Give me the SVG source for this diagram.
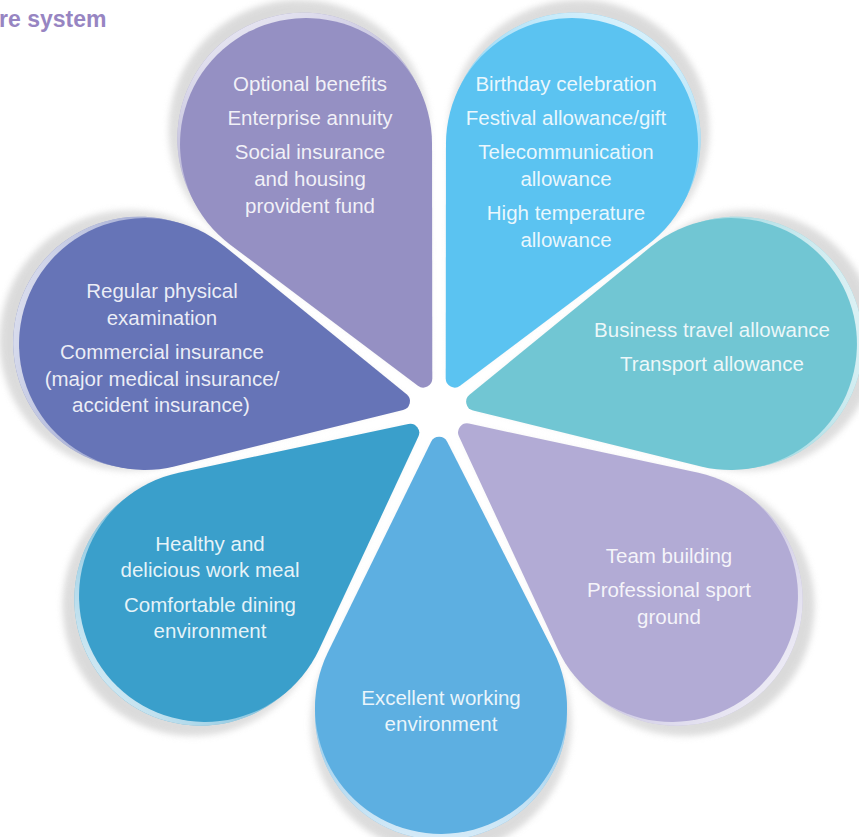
<svg xmlns="http://www.w3.org/2000/svg" xmlns:xlink="http://www.w3.org/1999/xlink" width="859" height="837" viewBox="0 0 859 837">
  <style>
    .lbl { font-family: "Liberation Sans", Arial, sans-serif; font-size: 20.5px; fill: #ffffff; fill-opacity: 0.88; text-anchor: middle; }
    .title { font-family: "Liberation Sans", Arial, sans-serif; font-size: 23px; font-weight: bold; fill: #9785c2; }
    .shadow { fill: url(#shade); filter: url(#blur); }
  </style>
  <defs>
    <path id="shape" d="M 8.05,266.25 L 112.8,56.2 A 126 126 0 1 0 -112.8,56.2 L -8.05,266.25 A 9 9 0 0 0 8.05,266.25 Z"/>
    <linearGradient id="rim" x1="0" y1="0" x2="0" y2="1">
      <stop offset="0" stop-color="#ffffff" stop-opacity="0.75"/>
      <stop offset="0.3" stop-color="#ffffff" stop-opacity="0.35"/>
      <stop offset="0.7" stop-color="#ffffff" stop-opacity="0.2"/>
      <stop offset="1" stop-color="#ffffff" stop-opacity="0.1"/>
    </linearGradient>
    <linearGradient id="shade" x1="0" y1="0" x2="0" y2="1">
      <stop offset="0" stop-color="#d2d2d2"/>
      <stop offset="0.5" stop-color="#dcdcdc"/>
      <stop offset="1" stop-color="#e8e8e8"/>
    </linearGradient>
    <filter id="blur" x="-20%" y="-20%" width="140%" height="140%">
      <feGaussianBlur stdDeviation="3"/>
    </filter>
  </defs>

  <rect x="0" y="0" width="859" height="837" fill="#ffffff"/>

  <text class="title" x="-1" y="27">re system</text>

  <g id="shadows" opacity="0.8">
    <use href="#shape" class="shadow" transform="translate(306,144) rotate(-26.57) translate(0,-6) translate(0,271) scale(1.035) translate(0,-271)"/>
    <use href="#shape" class="shadow" transform="translate(572,144) rotate(26.57) translate(0,-6) translate(0,271) scale(1.035) translate(0,-271)"/>
    <use href="#shape" class="shadow" transform="translate(731,344) rotate(77.3) translate(0,-6) translate(0,271) scale(1.035) translate(0,-271)"/>
    <use href="#shape" class="shadow" transform="translate(672,596) rotate(128.6) translate(0,-6) translate(0,271) scale(1.035) translate(0,-271)"/>
    <use href="#shape" class="shadow" transform="translate(441,708) rotate(179.6) translate(0,-6) translate(0,271) scale(1.035) translate(0,-271)"/>
    <use href="#shape" class="shadow" transform="translate(205,596) rotate(-128.5) translate(0,-6) translate(0,271) scale(1.035) translate(0,-271)"/>
    <use href="#shape" class="shadow" transform="translate(145,344) rotate(-77.4) translate(0,-6) translate(0,271) scale(1.035) translate(0,-271)"/>
  </g>

  <g id="connectors"></g>

  <g id="node-optional-benefits">
    <g transform="translate(306,144) rotate(-26.57)">
      <use href="#shape" fill="#9590c3" transform="translate(0,-6)"/>
      <use href="#shape" fill="url(#rim)" transform="translate(0,-6)"/>
      <use href="#shape" fill="#9590c3"/>
    </g>
    <text class="lbl" x="310" y="91">Optional benefits</text>
    <text class="lbl" x="310" y="125">Enterprise annuity</text>
    <text class="lbl" x="310" y="159">Social insurance</text>
    <text class="lbl" x="310" y="186">and housing</text>
    <text class="lbl" x="310" y="213">provident fund</text>
  </g>

  <g id="node-allowances">
    <g transform="translate(572,144) rotate(26.57)">
      <use href="#shape" fill="#5bc3f1" transform="translate(0,-6)"/>
      <use href="#shape" fill="url(#rim)" transform="translate(0,-6)"/>
      <use href="#shape" fill="#5bc3f1"/>
    </g>
    <text class="lbl" x="566" y="91">Birthday celebration</text>
    <text class="lbl" x="566" y="125">Festival allowance/gift</text>
    <text class="lbl" x="566" y="159">Telecommunication</text>
    <text class="lbl" x="566" y="186">allowance</text>
    <text class="lbl" x="566" y="220">High temperature</text>
    <text class="lbl" x="566" y="247">allowance</text>
  </g>

  <g id="node-travel">
    <g transform="translate(731,344) rotate(77.3)">
      <use href="#shape" fill="#71c6d3" transform="translate(0,-6)"/>
      <use href="#shape" fill="url(#rim)" transform="translate(0,-6)"/>
      <use href="#shape" fill="#71c6d3"/>
    </g>
    <text class="lbl" x="712" y="337">Business travel allowance</text>
    <text class="lbl" x="712" y="371">Transport allowance</text>
  </g>

  <g id="node-team">
    <g transform="translate(672,596) rotate(128.6)">
      <use href="#shape" fill="#b2abd5" transform="translate(0,-6)"/>
      <use href="#shape" fill="url(#rim)" transform="translate(0,-6)"/>
      <use href="#shape" fill="#b2abd5"/>
    </g>
    <text class="lbl" x="669" y="563">Team building</text>
    <text class="lbl" x="669" y="597">Professional sport</text>
    <text class="lbl" x="669" y="624">ground</text>
  </g>

  <g id="node-environment">
    <g transform="translate(441,708) rotate(179.6)">
      <use href="#shape" fill="#5dafe1" transform="translate(0,-6)"/>
      <use href="#shape" fill="url(#rim)" transform="translate(0,-6)"/>
      <use href="#shape" fill="#5dafe1"/>
    </g>
    <text class="lbl" x="441" y="705">Excellent working</text>
    <text class="lbl" x="441" y="731">environment</text>
  </g>

  <g id="node-meal">
    <g transform="translate(205,596) rotate(-128.5)">
      <use href="#shape" fill="#3a9fcb" transform="translate(0,-6)"/>
      <use href="#shape" fill="url(#rim)" transform="translate(0,-6)"/>
      <use href="#shape" fill="#3a9fcb"/>
    </g>
    <text class="lbl" x="210" y="551">Healthy and</text>
    <text class="lbl" x="210" y="577">delicious work meal</text>
    <text class="lbl" x="210" y="612">Comfortable dining</text>
    <text class="lbl" x="210" y="638">environment</text>
  </g>

  <g id="node-health">
    <g transform="translate(145,344) rotate(-77.4)">
      <use href="#shape" fill="#6674b7" transform="translate(0,-6)"/>
      <use href="#shape" fill="url(#rim)" transform="translate(0,-6)"/>
      <use href="#shape" fill="#6674b7"/>
    </g>
    <text class="lbl" x="162" y="298">Regular physical</text>
    <text class="lbl" x="162" y="325">examination</text>
    <text class="lbl" x="162" y="359">Commercial insurance</text>
    <text class="lbl" x="162" y="386">(major medical insurance/</text>
    <text class="lbl" x="161" y="412">accident insurance)</text>
  </g>
</svg>
